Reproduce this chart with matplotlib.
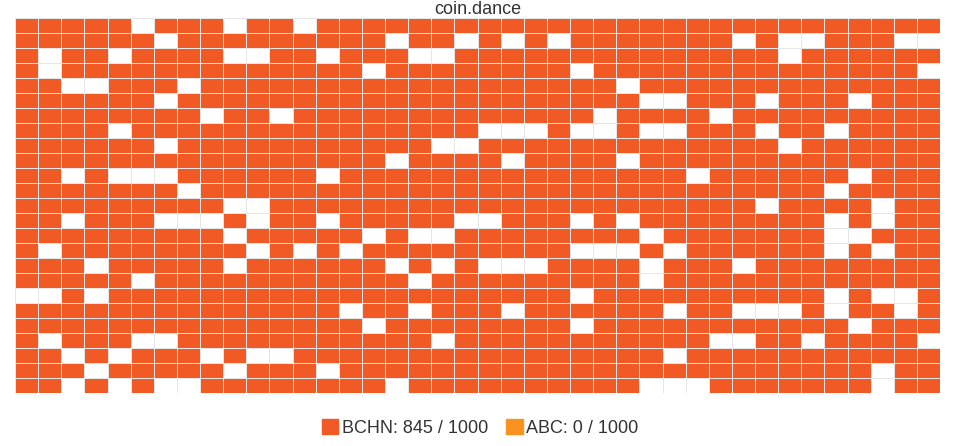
import numpy as np
import matplotlib.pyplot as plt
from matplotlib.colors import ListedColormap
from matplotlib.patches import Patch

plt.rcParams['font.family'] = ['Liberation Sans', 'DejaVu Sans']

# Last 1000 blocks laid out 40 per row, 25 rows.
# For each row: columns of blocks NOT mined with BCHN (blank cells)
n_cols = 40
blank_cols = [
    [5, 9, 12],
    [6, 16, 19, 21, 23, 31, 33, 34, 38, 39],
    [1, 4, 9, 10, 13, 17, 18, 33],
    [1, 15, 24, 39],
    [2, 3, 7, 26],
    [6, 27, 28, 32, 36],
    [8, 11, 25, 30],
    [4, 20, 21, 22, 24, 25, 27, 28, 32, 35],
    [6, 18, 19, 33],
    [16, 21, 26],
    [2, 4, 5, 6, 13, 29, 36],
    [7, 35],
    [9, 10, 32, 37],
    [2, 6, 7, 8, 10, 13, 19, 20, 24, 26, 35, 37],
    [9, 15, 17, 18, 27, 35, 36],
    [1, 10, 12, 14, 24, 25, 26, 28, 35, 37],
    [3, 9, 16, 18, 20, 21, 22, 27, 31],
    [5, 17, 27],
    [0, 1, 3, 24, 35, 37, 38],
    [14, 17, 21, 28, 31, 32, 33, 35, 38],
    [15, 24, 36],
    [1, 5, 6, 18, 30, 31, 34, 39],
    [2, 4, 8, 10, 11, 28],
    [3, 9, 13, 37],
    [2, 4, 6, 7, 16, 27, 28, 29, 37],
]
total_blocks = 1000
abc_blocks = 0

bchn_color = "#f15a24"
abc_color = "#f7931e"

grid = np.ones((len(blank_cols), n_cols), dtype=int)
for r, cols in enumerate(blank_cols):
    grid[r, cols] = 0
bchn_blocks = int(grid.sum())

fig = plt.figure(figsize=(9.55, 4.46), dpi=100)
ax = fig.add_axes([15 / 955, 53 / 446, 925 / 955, 375 / 446])
cmap = ListedColormap(["white", bchn_color])
ax.pcolormesh(grid, cmap=cmap, vmin=0, vmax=1, edgecolors="#e6e6e6", linewidth=0.7)
ax.set_xlim(0, grid.shape[1])
ax.set_ylim(grid.shape[0], 0)
ax.axis("off")

fig.text(0.5, 1 - 9 / 446, "coin.dance", ha="center", va="center", fontsize=13, color="#333333")

handles = [Patch(color=bchn_color), Patch(color=abc_color)]
labels = [f"BCHN: {bchn_blocks} / {total_blocks}", f"ABC: {abc_blocks} / {total_blocks}"]
fig.legend(handles, labels, loc="center", bbox_to_anchor=(0.503, 1 - 428 / 446), ncol=2,
           frameon=False, fontsize=13, handlelength=0.9, handleheight=0.9,
           handletextpad=0.2, columnspacing=1.0, labelcolor="#333333")

fig.savefig("out.png", dpi=100)
